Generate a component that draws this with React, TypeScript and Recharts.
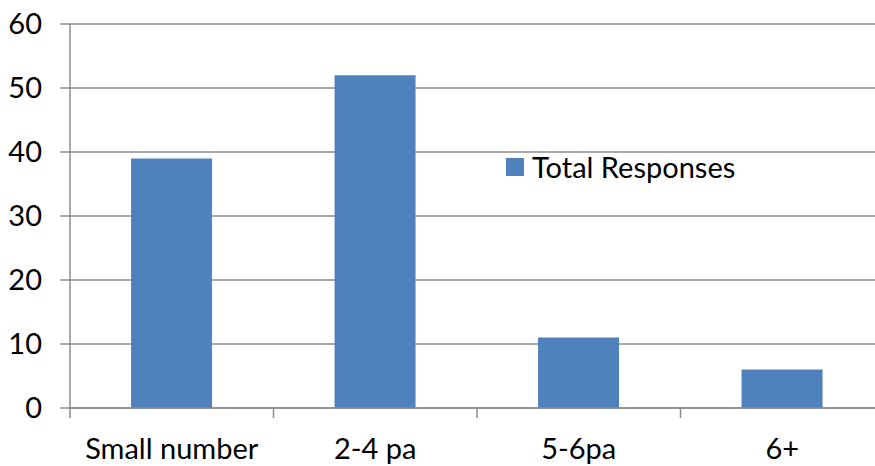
import React from 'react';
import { BarChart, Bar, XAxis, YAxis, CartesianGrid, Legend } from 'recharts';

const categories = ['Small number', '2-4 pa', '5-6pa', '6+'];
const totalResponses = [39, 52, 11, 6];
const yTicks = [0, 10, 20, 30, 40, 50, 60];
const seriesName = 'Total Responses';

const data = categories.map((c, i) => ({ name: c, value: totalResponses[i] }));

const FONT = 'Lato, "Open Sans", sans-serif';
const FS = 29;
const GRID = '#8c8c8c';
const BAR = '#4F81BD';
const X_TICK_SIZE = 6;
const X_TICK_MARGIN = 2;

const renderLegend = () => (
  <div style={{ display: 'flex', alignItems: 'center', fontFamily: FONT, fontSize: FS, color: '#000', lineHeight: 1 }}>
    <span style={{ display: 'inline-block', width: 18, height: 18, background: BAR, marginRight: 8 }} />
    <span>{seriesName}</span>
  </div>
);

const CategoryTick = (props: any) => {
  const { x, y, payload, index, visibleTicksCount } = props;
  const axisY = y - X_TICK_SIZE - X_TICK_MARGIN;
  const half = payload && payload.offset ? payload.offset : 0;
  const isLast = index === visibleTicksCount - 1;
  return (
    <g>
      <line x1={x - half} x2={x - half} y1={axisY} y2={axisY + 10} stroke={GRID} strokeWidth={1.5} />
      {isLast && (
        <line x1={x + half} x2={x + half} y1={axisY} y2={axisY + 10} stroke={GRID} strokeWidth={1.5} />
      )}
      <text x={x} y={axisY + 51} textAnchor="middle" fill="#000" fontSize={FS} fontFamily={FONT}>
        {payload.value}
      </text>
    </g>
  );
};

export default function App() {
  return (
    <div style={{ position: 'fixed', left: 0, top: 0, width: 875, height: 466, overflow: 'hidden', background: '#fff' }}>
      <BarChart
        width={884}
        height={466}
        data={data}
        margin={{ top: 24, right: 0, bottom: 0, left: 0 }}
        barCategoryGap="30%"
      >
        <CartesianGrid horizontal vertical={false} stroke={GRID} strokeWidth={1.5} />
        <XAxis
          dataKey="name"
          height={58}
          tickLine={false}
          tickSize={X_TICK_SIZE}
          tickMargin={X_TICK_MARGIN}
          stroke={GRID}
          strokeWidth={1.5}
          interval={0}
          tick={<CategoryTick />}
        />
        <YAxis
          width={70}
          domain={[0, 60]}
          ticks={yTicks}
          tickSize={10}
          tickMargin={18}
          stroke={GRID}
          strokeWidth={1.5}
          tick={{ fill: '#000', fontSize: FS, fontFamily: FONT }}
          tickLine={{ stroke: GRID, strokeWidth: 1.5 }}
        />
        <Legend
          verticalAlign="middle"
          align="center"
          layout="horizontal"
          content={renderLegend}
          wrapperStyle={{ position: 'absolute', left: 506, top: 152, width: 'auto' }}
        />
        <Bar dataKey="value" name={seriesName} fill={BAR} isAnimationActive={false} />
      </BarChart>
    </div>
  );
}
